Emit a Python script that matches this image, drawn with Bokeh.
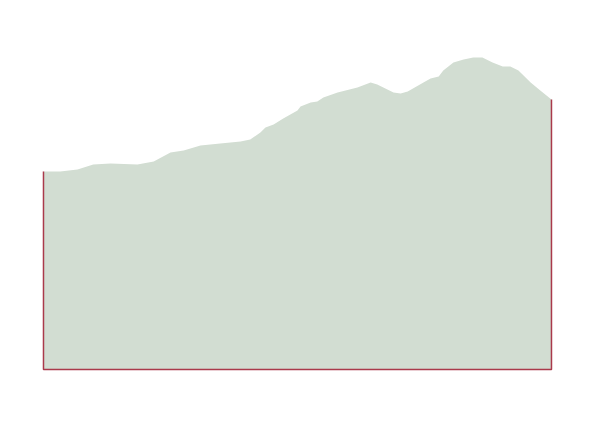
from bokeh.plotting import figure
from bokeh.models import Range1d
from bokeh.embed import file_html
from bokeh.resources import INLINE

distance = [0, 3.3, 6.7, 9.8, 13.2, 18.5, 21.7, 25.0, 27.6, 30.9, 34.8, 38.8, 40.7,
            42.7, 43.7, 45.3, 47.2, 50.0, 50.6, 52.6, 53.9, 55.1, 57.9, 61.8, 64.4,
            65.7, 68.9, 70.3, 71.7, 74.8, 76.2, 77.8, 78.7, 80.7, 82.7, 84.6, 86.4,
            88.4, 90.4, 91.9, 93.5, 95.9, 97.8, 100.0]
elevation = [198, 198, 200, 205, 206, 205, 208, 217, 219, 224, 226, 228, 230,
             237, 242, 245, 251, 259, 263, 267, 268, 272, 277, 282, 287,
             285, 277, 276, 278, 287, 291, 293, 299, 307, 310, 312, 312,
             307, 303, 303, 299, 287, 279, 270]

p = figure(width=584, height=412, output_backend="svg", toolbar_location=None,
           x_range=Range1d(-8.46, 106.5), y_range=Range1d(-43, 369),
           min_border=0, min_border_left=0, min_border_right=0,
           min_border_top=0, min_border_bottom=0)
p.axis.visible = False
p.grid.visible = False
p.outline_line_color = None
p.background_fill_color = "white"
p.border_fill_color = "white"

p.varea(x=distance, y1=[0] * len(distance), y2=elevation,
        fill_color="#d2ddd2", fill_alpha=1.0)

edge_x = [distance[0], distance[0], distance[-1], distance[-1]]
edge_y = [elevation[0], 0, 0, elevation[-1]]
p.line(x=edge_x, y=edge_y, line_color="#a3263a", line_width=1.5, line_alpha=0.9)

open("out.html", "w").write(file_html(p, INLINE))
